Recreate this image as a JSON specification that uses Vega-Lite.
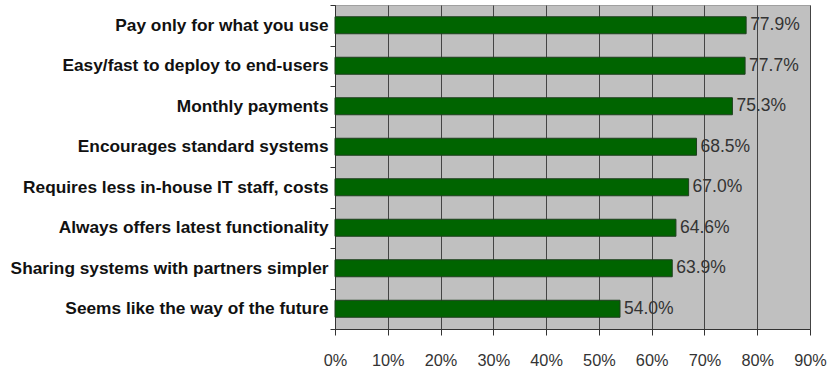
{
  "$schema": "https://vega.github.io/schema/vega-lite/v6.json",
  "autosize": "none",
  "width": 475,
  "height": 324,
  "padding": {"left": 335, "top": 5, "right": 21, "bottom": 40},
  "background": "white",
  "config": {
    "view": {"fill": "#c0c0c0", "stroke": "#a0a0a0", "strokeWidth": 1},
    "font": "Liberation Sans"
  },
  "data": {
    "values": [
      {"reason": "Pay only for what you use", "share": 0.779},
      {"reason": "Easy/fast to deploy to end-users", "share": 0.777},
      {"reason": "Monthly payments", "share": 0.753},
      {"reason": "Encourages standard systems", "share": 0.685},
      {"reason": "Requires less in-house IT staff, costs", "share": 0.670},
      {"reason": "Always offers latest functionality", "share": 0.646},
      {"reason": "Sharing systems with partners simpler", "share": 0.639},
      {"reason": "Seems like the way of the future", "share": 0.540}
    ]
  },
  "encoding": {
    "y": {
      "field": "reason",
      "type": "nominal",
      "sort": null,
      "scale": {"padding": 0},
      "axis": {
        "title": null,
        "tickBand": "extent",
        "tickSize": 5,
        "tickColor": "#333333",
        "domainColor": "#333333",
        "labelFont": "Liberation Sans",
        "labelFontWeight": "bold",
        "labelFontSize": 17.3,
        "labelColor": "#111111",
        "labelPadding": 2,
        "labelLimit": 400,
        "grid": false
      }
    },
    "x": {
      "field": "share",
      "type": "quantitative",
      "scale": {"domain": [0, 0.9], "nice": false},
      "axis": {
        "title": null,
        "values": [0, 0.1, 0.2, 0.3, 0.4, 0.5, 0.6, 0.7, 0.8, 0.9],
        "format": ".0%",
        "grid": true,
        "gridColor": "#444444",
        "gridWidth": 1,
        "gridOpacity": 1,
        "tickSize": 6,
        "tickColor": "#333333",
        "domainColor": "#333333",
        "labelFont": "Liberation Sans",
        "labelFontSize": 16.3,
        "labelColor": "#333333",
        "labelPadding": 17,
        "labelFlush": false
      }
    }
  },
  "layer": [
    {
      "mark": {"type": "bar", "size": 17, "fill": "#006400", "stroke": "#1f3f1f", "strokeWidth": 1}
    },
    {
      "mark": {"type": "text", "align": "left", "baseline": "middle", "dx": 4, "fontSize": 17.5, "font": "Liberation Sans", "color": "#333333"},
      "encoding": {
        "text": {"field": "share", "type": "quantitative", "format": ".1%"}
      }
    }
  ]
}
